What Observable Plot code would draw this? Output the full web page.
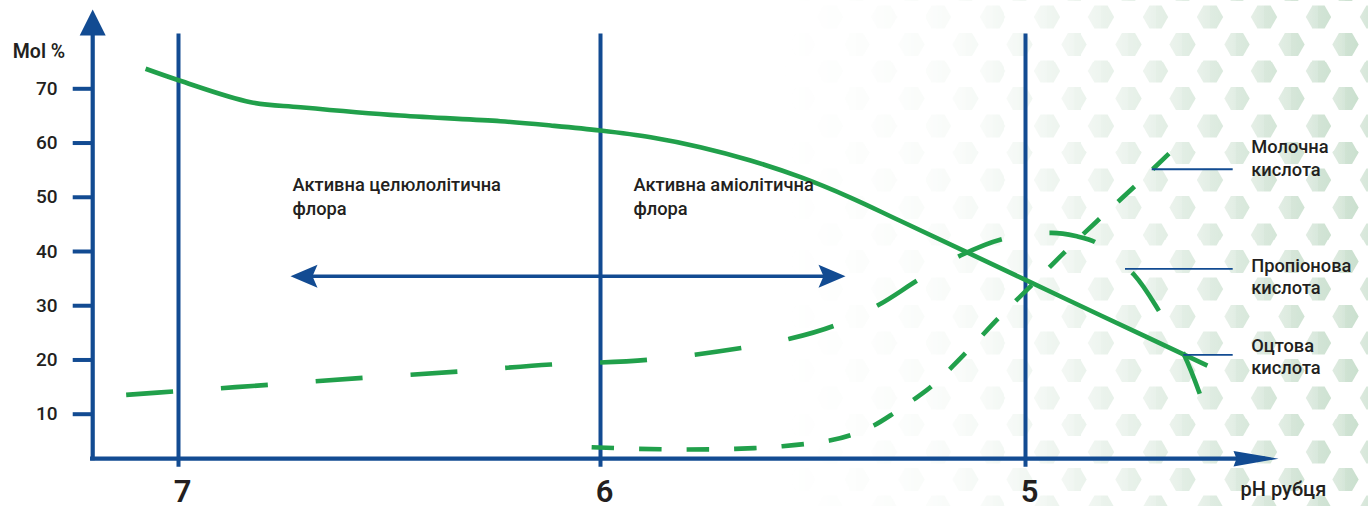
<!DOCTYPE html>
<html>
<head>
<meta charset="utf-8">
<script src="https://cdn.jsdelivr.net/npm/d3@7"></script>
<script src="https://cdn.jsdelivr.net/npm/@observablehq/plot@0.6"></script>
<style>
  html, body { margin: 0; padding: 0; background: #fff; }
  #wrap { position: relative; width: 1368px; height: 506px; overflow: hidden; }
  #hex { position: absolute; left: 0; top: 0; width: 1368px; height: 506px;
    -webkit-mask-image: linear-gradient(to right, rgba(0,0,0,0) 780px, rgba(0,0,0,0.12) 950px, rgba(0,0,0,0.45) 1130px, #000 1368px);
    mask-image: linear-gradient(to right, rgba(0,0,0,0) 780px, rgba(0,0,0,0.12) 950px, rgba(0,0,0,0.45) 1130px, #000 1368px); }
  #chart { position: absolute; left: 0; top: 0; }
</style>
</head>
<body>
<div id="wrap"><div id="hex"></div><div id="chart"></div></div>
<script>
// ---------- data ----------
const phLines = [7, 6, 5];
const yTicks = [10, 20, 30, 40, 50, 60, 70];
const xTickLabels = ["7", "6", "5"];

// Оцтова кислота (solid)
const aceticPH  = [7.078, 6.998, 6.829, 6.711, 6.474, 6.237, 6.118, 6.000, 5.882, 5.765, 5.647, 5.529, 5.412, 5.294, 5.000, 4.824, 4.572];
const aceticMol = [73.69, 71.53, 67.53, 66.61, 65.07, 64.02, 63.23, 62.31, 61.07, 59.23, 56.78, 53.70, 49.95, 45.62, 34.76, 28.25, 18.97];

// Пропіонова кислота (long dash)
const propionicPH  = [7.124, 7.012, 6.787, 6.562, 6.336, 6.118, 5.888, 5.665, 5.555, 5.449, 5.345, 5.252, 5.153, 5.052, 4.939, 4.882, 4.833, 4.745, 4.684, 4.627, 4.590];
const propionicMol = [13.57, 14.18, 15.42, 16.71, 17.87, 19.16, 20.03, 22.24, 23.90, 26.35, 30.17, 34.78, 39.26, 42.34, 43.44, 42.85, 41.60, 35.75, 28.80, 20.95, 13.76];

// Молочна кислота (medium dash)
const lacticPH  = [6.021, 5.910, 5.796, 5.684, 5.572, 5.461, 5.409, 5.357, 5.310, 5.263, 5.219, 5.139, 5.063, 4.982, 4.904, 4.822, 4.739, 4.659];
const lacticMol = [3.91, 3.61, 3.49, 3.61, 4.09, 5.14, 6.20, 7.91, 10.18, 12.71, 15.29, 21.43, 27.77, 34.04, 40.18, 46.32, 52.30, 58.31];

const acidNames = ["Молочна\nкислота", "Пропіонова\nкислота", "Оцтова\nкислота"];
const acidLabelMol = [61.0, 39.2, 24.4];
const acidPointerMol = [55.17, 36.8, 20.95];
const acidPointerStart = [4.7019, 4.7647, 4.6275];

const zoneTexts = ["Активна целюлолітична\nфлора", "Активна аміолітична\nфлора"];
const zonePH = [6.7299, 5.9224];

const yTitle = "Mol %";
const xTitle = "pH рубця";

// ---------- style ----------
const BLUE = "#124b92", GREEN = "#21a04b", INK = "#231f20";
const FONT = "Roboto, 'Open Sans', sans-serif";

// hexagon background decoration
(function () {
  const hex = (cx, cy) => {
    const p = [[-13, 0], [-6.5, -11.3], [6.5, -11.3], [13, 0], [6.5, 11.3], [-6.5, 11.3]];
    return `<polygon points='${p.map(([a, b]) => (cx + a) + "," + (cy + b)).join(" ")}'/>`;
  };
  const w = 54.3, h = 54.4;
  const svg = `<svg xmlns='http://www.w3.org/2000/svg' width='${w}' height='${h}' viewBox='0 0 ${w} ${h}'><defs><linearGradient id='g' x1='0' x2='1'><stop offset='0' stop-color='#dce9de'/><stop offset='0.5' stop-color='#d3e5d7'/><stop offset='0.5' stop-color='#cde1d1'/><stop offset='1' stop-color='#c9dfcd'/></linearGradient></defs><g fill='url(#g)'>${hex(0,0)}${hex(w,0)}${hex(0,h)}${hex(w,h)}${hex(w/2,h/2)}</g></svg>`;
  const el = document.getElementById("hex");
  el.style.backgroundImage = `url("data:image/svg+xml,${encodeURIComponent(svg)}")`;
  el.style.backgroundSize = `${w}px ${h}px`;
  el.style.backgroundPosition = `15.3px 17px`;
})();

const arrowSym = (len, wid, notch) => ({
  draw(ctx) {
    ctx.moveTo(0, 0);
    ctx.lineTo(wid / 2, len);
    ctx.lineTo(0, len - notch);
    ctx.lineTo(-wid / 2, len);
    ctx.closePath();
  }
});

const toRows = (ph, mol) => ph.map((x, i) => ({ x, y: mol[i] }));
const acetic = toRows(aceticPH, aceticMol);
const propionic = toRows(propionicPH, propionicMol);
const lactic = toRows(lacticPH, lacticMol);
const acidRows = acidNames.map((name, i) => ({ name, y: acidLabelMol[i], py: acidPointerMol[i], px: acidPointerStart[i] }));
const zoneRows = zoneTexts.map((t, i) => ({ t, x: zonePH[i] }));

const chart = Plot.plot({
  width: 1368,
  height: 506,
  x: { type: "linear", domain: [7, 6, 5], range: [178, 600, 1025], axis: null },
  y: { type: "linear", domain: [10, 70], range: [413.7, 88.3], axis: null },
  style: { background: "transparent", fontFamily: FONT, overflow: "visible" },
  marks: [
    // vertical pH reference lines
    Plot.ruleX(phLines, { x: d => d, y1: 0.2, y2: 80.1, stroke: BLUE, strokeWidth: 4 }),
    // y axis
    Plot.ruleX([7.2033], { x: d => d, y1: 1.4, y2: 80, stroke: BLUE, strokeWidth: 4.2 }),
    Plot.dot([0], { x: 7.2033, y: 84.6, symbol: arrowSym(26, 26, 0), fill: BLUE, stroke: null }),
    Plot.ruleY(yTicks, { y: d => d, x1: 7.2495, x2: 7.2033, stroke: BLUE, strokeWidth: 4 }),
    // x axis
    Plot.ruleY([1.8], { y: d => d, x1: 7.2085, x2: 4.435, stroke: BLUE, strokeWidth: 4.2 }),
    Plot.dot([0], { x: 4.4047, y: 1.8, symbol: arrowSym(45, 15.5, 3), rotate: 90, fill: BLUE, stroke: null }),
    // curves
    Plot.line(acetic, { x: "x", y: "y", curve: "catmull-rom", stroke: GREEN, strokeWidth: 4.6, strokeLinecap: "butt" }),
    Plot.line(propionic, { x: "x", y: "y", curve: "catmull-rom", stroke: GREEN, strokeWidth: 4.6, strokeLinecap: "butt", strokeDasharray: "47,48" }),
    Plot.line(lactic, { x: "x", y: "y", curve: "catmull-rom", stroke: GREEN, strokeWidth: 4.6, strokeLinecap: "butt", strokeDasharray: "22.5,25" }),
    // double-headed arrow
    Plot.ruleY([35.44], { y: d => d, x1: 6.70, x2: 5.46, stroke: BLUE, strokeWidth: 3.6 }),
    Plot.dot([0], { x: 6.7346, y: 35.44, symbol: arrowSym(27, 23, 5), rotate: -90, fill: BLUE, stroke: null }),
    Plot.dot([0], { x: 5.4235, y: 35.44, symbol: arrowSym(27, 23, 5), rotate: 90, fill: BLUE, stroke: null }),
    // pointers to acid labels
    Plot.ruleY(acidRows, { y: "py", x1: "px", x2: 4.5113, stroke: BLUE, strokeWidth: 1.8 }),
    // texts
    Plot.text(yTicks, { x: 7.2867, y: d => d, text: d => String(d), textAnchor: "end", fontSize: 19, fontWeight: 500, fill: INK }),
    Plot.text([yTitle], { x: 7.3306, y: 76.75, text: d => d, textAnchor: "middle", fontSize: 19.5, fontWeight: 600, fill: INK }),
    Plot.text(phLines, { x: d => d, y: -4.3, text: (d, i) => xTickLabels[i], textAnchor: "middle", fontSize: 31, fontWeight: 600, fill: INK, dx: 4 }),
    Plot.text([xTitle], { x: 4.494, y: -3.89, text: d => d, textAnchor: "start", fontSize: 20, fontWeight: 500, fill: INK }),
    Plot.text(zoneRows, { x: "x", y: 54.3, text: "t", textAnchor: "start", lineAnchor: "top", lineHeight: 1.3, fontSize: 18.3, fontWeight: 500, fill: INK }),
    Plot.text(acidRows, { x: 4.4689, y: "y", text: "name", textAnchor: "start", lineAnchor: "top", lineHeight: 1.22, fontSize: 18.3, fontWeight: 500, fill: INK })
  ]
});
document.getElementById("chart").appendChild(chart);
</script>
</body>
</html>
